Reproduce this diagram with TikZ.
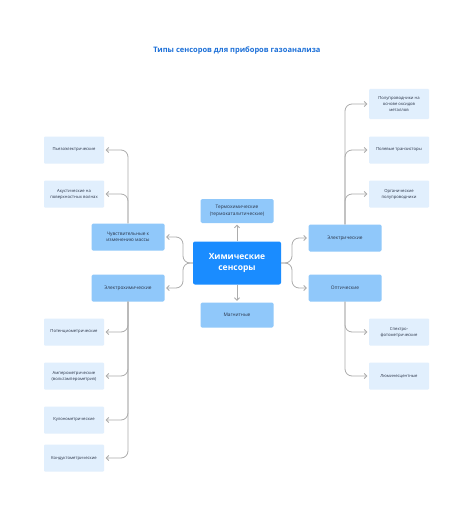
\documentclass[tikz,border=0pt]{standalone}
\usepackage{fontspec}
\setmainfont{Open Sans}
\usetikzlibrary{arrows.meta, positioning}
\definecolor{SensorBlue}{RGB}{26,140,255}
\definecolor{GroupBlue}{RGB}{144,200,250}
\definecolor{LeafBlue}{RGB}{225,239,253}
\definecolor{TitleBlue}{RGB}{27,111,216}
\definecolor{LinkGray}{RGB}{172,172,172}
\definecolor{TextDark}{RGB}{40,50,70}

\begin{document}
\begin{tikzpicture}[x=1pt, y=-1pt,
		core/.style={fill=SensorBlue, rounded corners=2pt, minimum width=88pt, minimum height=43pt, align=center, text=white, font=\fontsize{8.5}{11}\selectfont\bfseries},
		group/.style={fill=GroupBlue, rounded corners=1.5pt, minimum width=73pt, minimum height=27pt, align=center, text=TextDark, font=\fontsize{4.8}{6.5}\selectfont},
		leaf/.style={fill=LeafBlue, rounded corners=1pt, minimum width=60pt, minimum height=27pt, align=center, text=TextDark, font=\fontsize{4.2}{6}\selectfont},
		link/.style={-{Straight Barb[length=2.5pt,width=5pt]}, LinkGray, line width=0.8pt, rounded corners=7pt, shorten >=1.5pt}]
	\useasboundingbox[fill=white] (0,0) rectangle (474,516);
	\node[font=\fontsize{7.5}{10}\selectfont\bfseries, text=TitleBlue] (title) at (237,51) {Типы сенсоров для приборов газоанализа};

	\node[core] (core) at (237,263) {Химические\\ сенсоры};
	\node[group, minimum height=24pt] (thermo) at (237,211) {Термохимические\\ (термокаталитические)};
	\node[group, minimum height=25pt] (magnet) at (237,315) {Магнитные};
	\node[group] (mass) at (128,237) {Чувствительные к\\ изменению массы};
	\node[group] (electrochem) at (128,288) {Электрохимические};
	\node[group] (electric) at (345,238) {Электрические};
	\node[group] (optic) at (345,288) {Оптические};

	% left branches
	\node[leaf] (piezo) at (74,150) {Пьезоэлектрические};
	\node[leaf] (acoustic) at (74,194) {Акустические на\\ поверхностных волнах};
	\node[leaf] (potentio) at (74,332) {Потенциометрические};
	\node[leaf] (ampero) at (74,376) {Амперометрические\\ (вольтамперометрия)};
	\node[leaf] (coulo) at (74,420) {Кулонометрические};
	\node[leaf] (conducto) at (74,458) {Кондуктометрические};

	% right branches
	\node[leaf, minimum height=30pt] (oxide) at (399,104) {Полупроводники на\\ основе оксидов\\ металлов};
	\node[leaf] (fet) at (399,150) {Полевые транзисторы};
	\node[leaf] (organic) at (399,194) {Органические\\ полупроводники};
	\node[leaf] (spectro) at (399,332) {Спектро-\\ фотометрические};
	\node[leaf] (lumin) at (399,376) {Люминесцентные};

	\coordinate (lj) at (183,263);
	\coordinate (rj) at (292,263);

	\draw[link] (core.north) -- (thermo.south);
	\draw[link] (core.south) -- (magnet.north);
	\draw[link] (core.west) -- (lj) |- (mass.east);
	\draw[link] (core.west) -- (lj) |- (electrochem.east);
	\draw[link] (core.east) -- (rj) |- (electric.west);
	\draw[link] (core.east) -- (rj) |- (optic.west);

	\foreach \leafname in {piezo, acoustic}
		\draw[link] (mass.north) |- (\leafname.east);
	\foreach \leafname in {potentio, ampero, coulo, conducto}
		\draw[link] (electrochem.south) |- (\leafname.east);
	\foreach \leafname in {oxide, fet, organic}
		\draw[link] (electric.north) |- (\leafname.west);
	\foreach \leafname in {spectro, lumin}
		\draw[link] (optic.south) |- (\leafname.west);
\end{tikzpicture}
\end{document}
